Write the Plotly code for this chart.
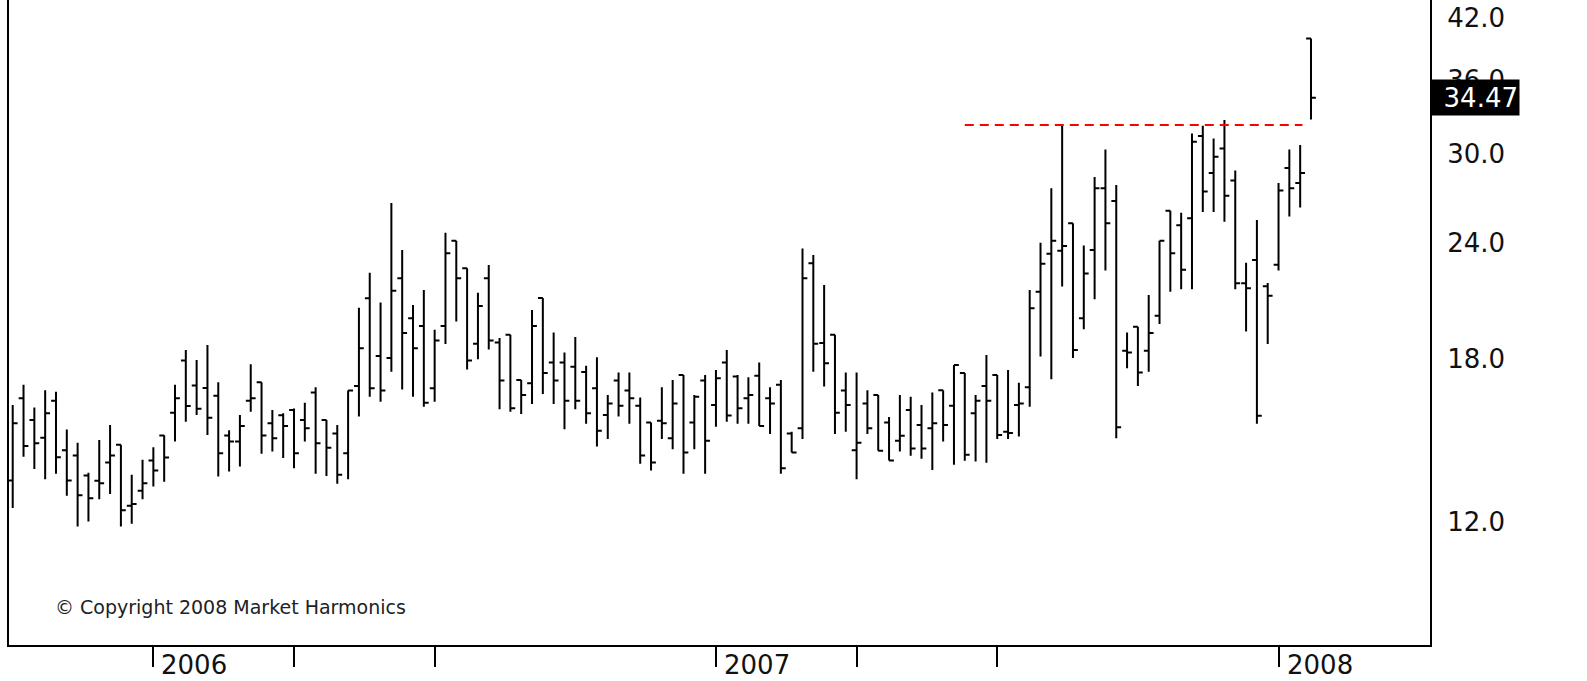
import math
import pandas as pd
import plotly.graph_objects as go

# ---- data (weekly bars) ----
week_start = "2005-10-03"
n_weeks = 121
dates = pd.date_range(week_start, periods=n_weeks, freq="7D")

open_ = [13.31, 16.33, 15.47, 14.80, 16.23, 14.35, 14.16, 13.47, 13.30, 13.92,
         14.54, 12.50, 12.97, 13.99, 14.88, 15.75, 17.93, 16.85, 16.75, 16.43,
         14.88, 14.66, 16.23, 16.99, 15.34, 15.65, 15.86, 15.47, 16.56, 15.47,
         14.96, 14.24, 16.83, 20.94, 18.14, 18.04, 22.00, 19.92, 19.54, 16.74,
         19.54, 24.16, 22.56, 18.70, 22.00, 18.75, 19.12, 17.09, 16.95, 20.95,
         17.84, 17.84, 17.66, 17.43, 16.74, 15.66, 17.06, 16.64, 16.03, 15.37,
         15.44, 14.78, 17.30, 15.37, 17.06, 16.06, 17.84, 17.23, 16.33, 17.27,
         16.33, 16.88, 14.96, 15.15, 22.84, 18.73, 19.12, 16.64, 14.35, 16.12,
         16.46, 15.37, 14.69, 15.86, 15.28, 15.15, 16.66, 16.03, 17.38, 15.73,
         16.83, 17.30, 15.02, 16.06, 16.78, 21.28, 23.38, 23.56, 25.23, 19.92,
         23.60, 27.53, 26.66, 18.37, 19.50, 18.37, 20.05, 26.02, 25.11, 25.55,
         31.34, 28.58, 30.38, 28.06, 21.73, 23.03, 21.57, 22.76, 28.94, 27.88,
         39.94]
high_ = [16.06, 16.88, 15.96, 16.66, 16.59, 15.11, 14.62, 13.57, 14.72, 15.28,
         14.54, 13.50, 14.01, 14.45, 14.89, 16.88, 18.41, 17.96, 18.64, 16.99,
         15.08, 15.66, 17.77, 16.99, 15.86, 15.73, 15.92, 16.15, 16.78, 15.47,
         15.28, 16.64, 20.45, 22.31, 20.71, 26.53, 23.60, 20.59, 21.37, 19.36,
         24.64, 24.16, 22.56, 21.23, 22.74, 18.96, 19.12, 17.09, 20.33, 20.95,
         19.23, 18.29, 19.01, 17.70, 18.08, 16.46, 17.41, 17.41, 16.36, 15.37,
         16.78, 17.09, 17.30, 16.46, 17.30, 17.52, 18.41, 17.30, 17.20, 17.84,
         16.78, 17.09, 15.02, 23.70, 23.32, 21.64, 19.12, 17.41, 17.41, 16.66,
         16.46, 15.58, 16.46, 16.39, 16.06, 16.56, 16.66, 17.73, 17.38, 16.46,
         18.18, 17.30, 17.52, 16.97, 21.37, 24.04, 27.53, 32.20, 25.23, 23.87,
         28.30, 30.30, 27.75, 19.23, 19.50, 21.11, 24.16, 26.02, 25.89, 31.53,
         32.14, 31.14, 32.61, 28.76, 22.87, 25.44, 21.75, 27.88, 30.30, 30.65,
         39.94]
low_ = [12.43, 14.12, 13.69, 13.35, 13.53, 12.81, 11.87, 12.02, 12.70, 12.87,
        11.87, 11.95, 12.70, 13.11, 13.27, 14.66, 15.40, 15.66, 14.90, 13.44,
        13.61, 13.78, 15.79, 14.22, 14.30, 14.07, 13.72, 14.66, 13.53, 13.46,
        13.20, 13.35, 15.60, 16.39, 16.19, 17.44, 16.69, 16.39, 15.99, 16.19,
        18.69, 19.76, 17.54, 17.99, 18.43, 15.89, 15.79, 15.70, 16.10, 16.50,
        16.10, 15.12, 15.89, 15.32, 14.48, 14.75, 15.60, 15.32, 13.87, 13.64,
        14.75, 14.38, 13.53, 14.38, 13.53, 15.21, 15.40, 15.32, 15.32, 15.24,
        14.94, 13.53, 14.27, 14.75, 17.44, 16.81, 14.94, 15.02, 13.35, 14.94,
        14.33, 13.99, 14.30, 14.15, 14.05, 13.66, 14.66, 13.84, 13.98, 13.95,
        13.91, 14.75, 14.75, 14.85, 15.99, 18.11, 17.12, 21.56, 18.04, 19.38,
        20.89, 22.43, 14.78, 17.59, 16.83, 17.44, 19.64, 21.28, 21.41, 21.41,
        25.94, 25.94, 25.33, 21.41, 19.28, 15.32, 18.69, 22.43, 25.65, 26.23,
        32.66]
close_ = [15.34, 14.50, 14.60, 15.73, 14.10, 13.31, 12.83, 12.73, 13.22, 14.16,
          12.36, 12.55, 13.22, 13.64, 14.09, 16.33, 16.02, 15.91, 15.55, 14.24,
          14.66, 15.24, 16.33, 14.88, 14.78, 15.24, 14.24, 15.15, 14.60, 14.44,
          13.50, 16.64, 18.49, 16.74, 16.64, 21.33, 19.20, 18.49, 16.15, 18.85,
          23.41, 22.00, 17.93, 20.54, 18.85, 17.06, 15.93, 16.46, 19.54, 17.39,
          17.06, 16.23, 16.23, 15.73, 15.06, 16.12, 16.03, 16.33, 14.16, 13.92,
          15.34, 16.12, 14.27, 16.39, 14.69, 17.16, 15.64, 15.93, 16.46, 15.24,
          16.12, 13.72, 14.27, 22.00, 18.70, 17.81, 15.75, 16.06, 14.62, 15.15,
          14.33, 13.99, 14.87, 14.41, 14.41, 15.34, 15.28, 17.73, 14.19, 16.23,
          16.23, 14.90, 14.98, 16.12, 20.42, 22.81, 24.16, 23.84, 18.41, 22.27,
          27.53, 25.23, 15.19, 18.29, 17.41, 19.20, 24.16, 23.41, 22.48, 30.90,
          27.30, 29.76, 27.02, 21.73, 21.46, 15.63, 21.06, 27.37, 27.53, 28.58,
          34.47]

resistance_level = 32.2
resistance_x = ["2007-06-11", "2008-01-15 12:00"]
last_price = 34.47

y_tick_vals = [12, 18, 24, 30, 36, 42]
y_tick_text = ["12.0", "18.0", "24.0", "30.0", "36.0", "42.0"]
x_tick_dates = ["2006-01-02", "2006-04-03", "2006-07-03", "2007-01-01",
                "2007-04-02", "2007-07-02", "2007-12-31"]
year_label_dates = ["2006-01-02", "2007-01-01", "2007-12-31"]
year_label_text = ["2006", "2007", "2008"]
copyright_text = "© Copyright 2008 Market Harmonics"

# ---- figure ----
FONT = "DejaVu Sans"
fig = go.Figure()
fig.add_trace(go.Ohlc(
    x=dates, open=open_, high=high_, low=low_, close=close_,
    increasing=dict(line=dict(color="black", width=2)),
    decreasing=dict(line=dict(color="black", width=2)),
    tickwidth=0.45, showlegend=False, hoverinfo="skip",
))
fig.add_trace(go.Scatter(
    x=resistance_x, y=[resistance_level, resistance_level], mode="lines",
    line=dict(color="#ff0000", width=2, dash="9px,6px"),
    showlegend=False, hoverinfo="skip",
))

t0 = pd.Timestamp(week_start)
x_range = [t0 - pd.Timedelta(days=2.4), t0 + pd.Timedelta(days=917)]

annotations = []
for d, t in zip(year_label_dates, year_label_text):
    annotations.append(dict(
        x=d, y=0, xref="x", yref="paper", text=t, showarrow=False,
        xanchor="left", yanchor="top", xshift=6, yshift=-3,
        font=dict(family=FONT, size=26, color="#111"),
    ))
annotations.append(dict(
    x=1, xref="paper", y=math.log10(last_price), yref="y",
    text=f"{last_price:.2f}", showarrow=False,
    xanchor="left", yanchor="middle", bgcolor="black",
    font=dict(family=FONT, size=26, color="white"),
    width=86, height=33, borderpad=1, align="right",
))
annotations.append(dict(
    x=0.031, xref="paper", y=0.059, yref="paper", text=copyright_text,
    showarrow=False, xanchor="left", yanchor="middle",
    font=dict(family=FONT, size=19, color="#222"),
))

fig.update_layout(
    width=1587, height=681,
    margin=dict(l=9, r=157, t=0, b=36),
    paper_bgcolor="white", plot_bgcolor="white",
    showlegend=False,
    annotations=annotations,
    xaxis=dict(
        type="date", range=x_range, rangeslider=dict(visible=False),
        showgrid=False, zeroline=False,
        showline=True, linecolor="black", linewidth=2, mirror=False,
        ticks="outside", ticklen=20, tickwidth=2, tickcolor="black",
        tickvals=x_tick_dates, showticklabels=False,
    ),
    yaxis=dict(
        type="log", side="right",
        range=[math.log10(8.84), math.log10(43.95)],
        showgrid=False, zeroline=False,
        showline=True, linecolor="black", linewidth=2, mirror=True,
        ticks="", tickvals=y_tick_vals, ticktext=y_tick_text,
        ticklabelstandoff=10,
        tickfont=dict(family=FONT, size=26, color="#111"),
    ),
)

fig.write_html(
    "out.html",
    config={"displayModeBar": False},
    post_script="document.body.style.margin='0px';document.body.style.overflow='hidden';",
)
